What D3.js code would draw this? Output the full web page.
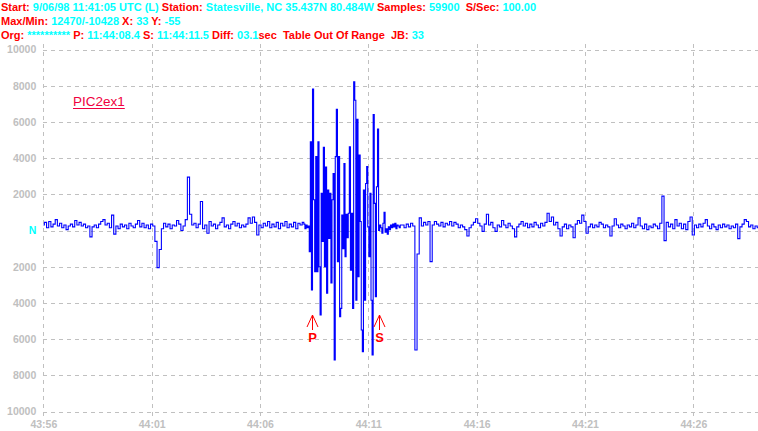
<!DOCTYPE html>
<html><head><meta charset="utf-8">
<script src="https://cdn.jsdelivr.net/npm/d3@7"></script>
<style>
html,body{margin:0;padding:0;background:#fff;}
svg{display:block;font-family:Arial,"Liberation Sans",sans-serif;}
</style></head><body>
<svg id="chart" width="758" height="431"></svg>
<script>
// ---------------- data ----------------
const xTickSeconds = [0, 5, 10, 15, 20, 25, 30];           // seconds after 43:56
const xTickLabels  = ["43:56","44:01","44:06","44:11","44:16","44:21","44:26"];
const yTickValues  = [10000, 8000, 6000, 4000, 2000, 0, -2000, -4000, -6000, -8000, -10000];
const yTickLabels  = ["10000","8000","6000","4000","2000","N","2000","4000","6000","8000","10000"];

const headerLine1 = [["Start: ",0],["9/06/98 11:41:05 UTC (L) ",1],["Station: ",0],["Statesville, NC 35.437N 80.484W ",1],["Samples: ",0],["59900  ",1],["S/Sec: ",0],["100.00",1]];
const headerLine2 = [["Max/Min: ",0],["12470/-10428 ",1],["X: ",0],["33 ",1],["Y: ",0],["-55",1]];
const headerLine3 = [["Org: ",0],["********** ",1],["P: ",0],["11:44:08.4 ",1],["S: ",0],["11:44:11.5 ",1],["Diff: ",0],["03.1",1],["sec  Table Out Of Range  JB: ",0],["33",1]];

const stationLabel = "PIC2ex1";
const phaseNames   = ["P", "S"];
const phaseSeconds = [12.4, 15.5];   // 11:44:08.4 and 11:44:11.5

// trace A: 0.0 .. 12.0 s, every 0.1 s
const traceA = [300,450,150,500,200,350,600,250,400,150,
 300,50,250,350,200,550,300,450,250,350,
 150,250,-350,200,300,150,350,500,600,300,
 400,150,850,-200,250,100,350,200,300,100,
 400,250,150,350,550,200,400,150,300,100,
 350,250,-600,-2050,-1050,100,400,200,350,100,
 300,250,550,350,0,250,600,2950,900,300,
 400,150,350,1600,100,300,-150,500,250,350,
 100,300,450,700,200,300,100,350,500,250,
 400,150,300,200,350,700,400,750,450,-250,
 300,150,400,250,500,150,350,200,450,100,
 400,250,500,150,350,200,450,100,400,300,
 450];
// trace B: 12.05 .. 16.5 s, every 0.05 s (the event)
const traceB = [350,100,300,150,250,-1170,4900,-3290,7820,1700,
 -2270,4080,-2270,4900,-2000,-4670,2050,-600,4600,-2000,
 3500,-3470,2240,-440,2050,-2900,1700,3150,-7150,4080,
 6700,-1720,4080,-4760,-4300,850,-1000,3700,-1450,900,
 -400,950,4630,-2200,950,-4300,8220,7200,-3850,6150,
 -2550,4170,500,-5500,-6700,2240,-3850,2600,3530,200,
 -1450,2060,-3850,-6880,6400,1500,-3660,2420,5600,0,
 300,150,-150,400,1000,-100,100,-200,200,50,
 300,150,350,200,400,100,300,250,150,300];
// trace C: 16.6 .. 33.0 s, every 0.1 s
const traceC = [300,150,350,200,400,250,-6600,-1300,700,250,
 450,300,500,-1720,300,500,350,250,450,200,
 400,300,500,250,450,350,150,300,200,50,
 -300,150,300,450,650,400,250,-50,350,900,
 300,450,150,-50,300,200,550,300,150,400,
 250,100,-350,200,350,500,250,400,150,350,
 200,450,300,150,400,250,450,950,500,750,
 300,450,100,-300,200,350,100,300,200,-400,
 350,550,400,850,500,-150,200,350,150,300,
 200,450,350,150,300,200,-300,250,650,300,
 150,350,250,100,300,200,400,150,300,700,
 250,100,350,50,250,150,350,250,100,400,
 1900,-560,450,200,350,100,600,250,400,100,
 350,50,500,750,-250,300,150,350,200,400,
 600,250,100,350,200,50,300,150,350,200,
 300,100,250,150,350,-450,200,350,600,500,
 200,300,100,250,150];

// ---------------- drawing ----------------
(function () {
const W = 758, H = 431;
const pLeft = 43.3, pRight = 758.3, pTop = 49.5, pBottom = 411.5;
const RED = "#ff0000", CYAN = "#00ffff", GRID = "#c0c0c0";

const svg = d3.select("#chart");
svg.append("rect").attr("width", W).attr("height", H).attr("fill", "#fff");

const x = d3.scaleLinear().domain([0, 33]).range([pLeft, pRight]);
const y = d3.scaleLinear().domain([-10000, 10000]).range([pBottom, pTop]);

// y axis with horizontal dashed grid
const yAxis = svg.append("g").attr("transform", `translate(${pLeft},0)`)
  .call(d3.axisLeft(y).tickValues(yTickValues)
        .tickFormat((d, i) => yTickLabels[i])
        .tickSize(-(W - pLeft)).tickPadding(7));
yAxis.select(".domain").remove();
yAxis.selectAll(".tick line").attr("stroke", GRID).attr("stroke-dasharray", "4,4")
  .attr("shape-rendering", "crispEdges");
yAxis.selectAll(".tick text")
  .attr("fill", (d) => d === 0 ? CYAN : GRID)
  .attr("font-weight", "bold").attr("font-size", "10.5px")
  .attr("font-family", "Arial, 'Liberation Sans', sans-serif");

// x axis with vertical dashed grid
const xBase = 416;
const xAxis = svg.append("g").attr("transform", `translate(0,${xBase})`)
  .call(d3.axisBottom(x).tickValues(xTickSeconds)
        .tickFormat((d, i) => xTickLabels[i])
        .tickSize(-(xBase - 41)).tickPadding(4.5));
xAxis.select(".domain").remove();
xAxis.selectAll(".tick line").attr("stroke", GRID).attr("stroke-dasharray", "4,4")
  .attr("shape-rendering", "crispEdges");
xAxis.selectAll(".tick text").attr("fill", GRID)
  .attr("font-weight", "bold").attr("font-size", "10.5px")
  .attr("font-family", "Arial, 'Liberation Sans', sans-serif");

// trace
const series = [];
traceA.forEach((v, i) => series.push([i / 10, v]));
traceB.forEach((v, i) => series.push([12.05 + i * 0.05, v]));
traceC.forEach((v, i) => series.push([16.6 + i / 10, v]));

svg.append("clipPath").attr("id", "plotclip")
  .append("rect").attr("x", pLeft).attr("y", pTop - 1).attr("width", W - pLeft).attr("height", pBottom - pTop + 2);

const line = d3.line().x(d => x(d[0])).y(d => y(d[1])).curve(d3.curveStep);
svg.append("path").datum(series)
  .attr("clip-path", "url(#plotclip)")
  .attr("fill", "none").attr("stroke", "#0000ff").attr("stroke-width", 1.1)
  .attr("d", line);

// header
function headerLine(parts, yy) {
  const t = svg.append("text").attr("x", 1).attr("y", yy)
    .attr("font-size", "11px").attr("font-weight", "bold")
    .attr("xml:space", "preserve").style("white-space", "pre");
  parts.forEach(p => t.append("tspan").attr("fill", p[1] ? CYAN : RED).text(p[0]));
}
headerLine(headerLine1, 11);
headerLine(headerLine2, 25);
headerLine(headerLine3, 39);

// station label
const lbl = svg.append("text").attr("x", 73).attr("y", 106)
  .attr("font-size", "13.5px").attr("fill", "#f00040").text(stationLabel);
const lw = lbl.node().getComputedTextLength();
svg.append("line").attr("x1", 73).attr("x2", 73 + lw).attr("y1", 108.5).attr("y2", 108.5)
  .attr("stroke", "#f00040").attr("stroke-width", 1);

// phase markers
phaseNames.forEach((name, i) => {
  const px = Math.round(x(phaseSeconds[i])) + 0.5;
  const g = svg.append("g");
  g.append("path").attr("d", `M${px - 5.5},327 L${px},315 L${px + 5.5},327 M${px},315 L${px},330`)
    .attr("fill", "none").attr("stroke", RED).attr("stroke-width", 1);
  g.append("text").attr("x", px).attr("y", 342).attr("text-anchor", "middle")
    .attr("font-size", "13px").attr("font-weight", "bold").attr("fill", RED).text(name);
});
})();
</script>
</body></html>
